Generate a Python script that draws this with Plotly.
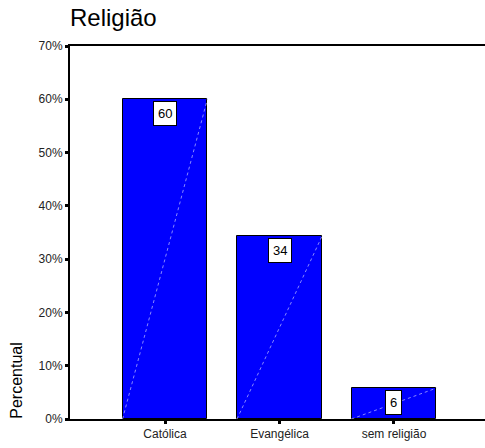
import plotly.graph_objects as go

categories = ["Católica", "Evangélica", "sem religião"]
values = [60.1, 34.3, 5.8]
labels = ["60", "34", "6"]
y_ticks = [0, 10, 20, 30, 40, 50, 60, 70]
y_ticktext = [f"{v}%" for v in y_ticks]

bar_width = 0.742
xs = list(range(len(categories)))
FONT = "Liberation Sans, Arial"

fig = go.Figure()
fig.add_trace(go.Bar(
    x=xs, y=values, width=bar_width,
    marker=dict(color="#0000FF", line=dict(color="black", width=1)),
    hoverinfo="skip", showlegend=False,
))

# diagonal highlight lines inside bars
dx, dy = [], []
for i, v in zip(xs, values):
    dx += [i - bar_width / 2, i + bar_width / 2, None]
    dy += [0, v, None]
fig.add_trace(go.Scatter(
    x=dx, y=dy, mode="lines",
    line=dict(color="rgba(170,170,255,0.8)", width=1, dash="dot"),
    hoverinfo="skip", showlegend=False,
))

for i, v, t in zip(xs, values, labels):
    fig.add_annotation(
        x=i, y=v, text=t, showarrow=False, yanchor="top", yshift=-2,
        font=dict(family=FONT, size=13, color="black"),
        bgcolor="white", bordercolor="black", borderwidth=1, borderpad=4,
    )

fig.add_annotation(
    text="Percentual", textangle=-90, xref="paper", yref="paper",
    x=-0.128, y=0.105, showarrow=False, xanchor="center", yanchor="middle",
    font=dict(family=FONT, size=16, color="black"),
)

fig.update_layout(
    width=485, height=448,
    margin=dict(l=70, r=0, t=46, b=29),
    paper_bgcolor="white", plot_bgcolor="white",
    title=dict(text="Religião", x=70 / 485, xanchor="left", y=1 - 18 / 448, yanchor="middle",
               font=dict(family=FONT, size=24, color="black")),
    font=dict(family=FONT, size=12, color="black"),
    bargap=0,
)
fig.update_xaxes(
    range=[-0.83, 2.795], tickvals=xs, ticktext=categories,
    tickfont=dict(family=FONT, size=12, color="#222222"),
    showline=True, linecolor="black", linewidth=2, mirror=True,
    ticks="outside", ticklen=3, tickwidth=3, tickcolor="black",
    showgrid=False, zeroline=False, fixedrange=True,
)
fig.update_yaxes(
    range=[0, 70], tickvals=y_ticks, ticktext=y_ticktext,
    tickfont=dict(family=FONT, size=12, color="#222222"),
    showline=True, linecolor="black", linewidth=2,
    ticks="outside", ticklen=3, tickwidth=3, tickcolor="black",
    showgrid=False, zeroline=False, fixedrange=True,
)

fig.write_html("out.html")
